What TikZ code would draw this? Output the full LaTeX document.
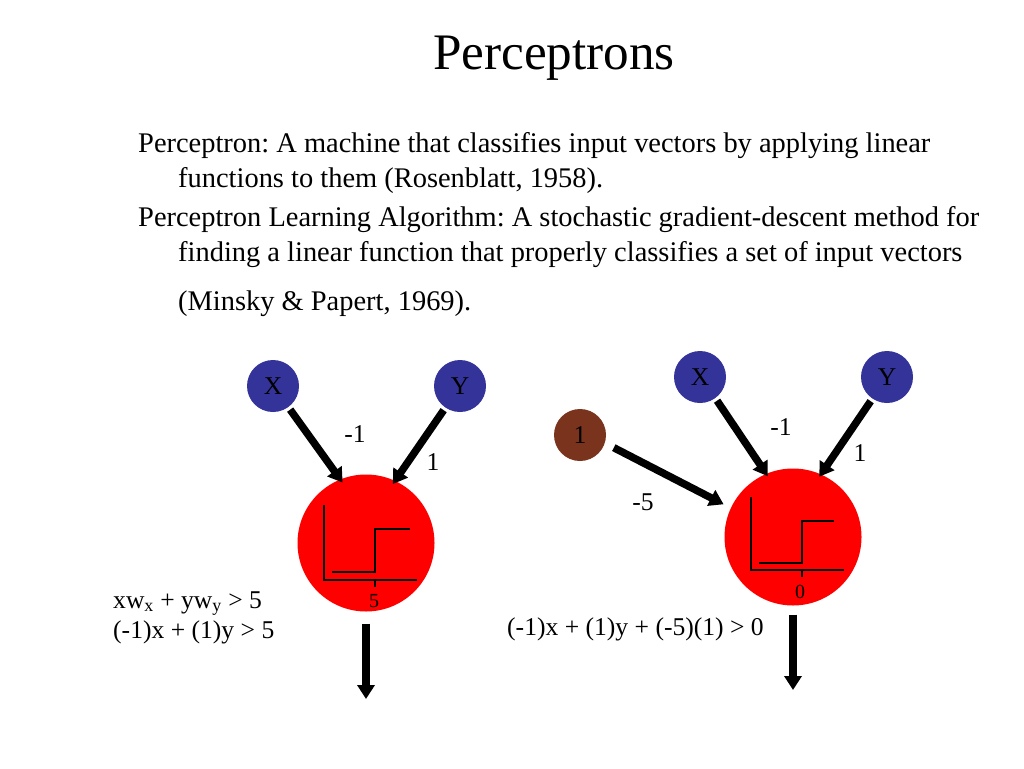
\documentclass[tikz,border=0pt]{standalone}
\usepackage{fontspec}
\setmainfont{Liberation Serif}
\usetikzlibrary{arrows.meta}
\definecolor{nodeblue}{HTML}{333399}
\definecolor{nodebrown}{HTML}{7A341E}
\definecolor{unitred}{HTML}{FF0000}
\begin{document}
\frenchspacing
\begin{tikzpicture}[x=1pt,y=-1pt,
  inputnode/.style={circle, fill=nodeblue, minimum size=52pt, inner sep=0pt, font=\fontsize{25.6}{30}\selectfont},
  biasnode/.style={inputnode, fill=nodebrown},
  unitnode/.style={circle, fill=unitred, minimum size=137pt, inner sep=0pt},
  conn/.style={line width=7.5pt, -{Triangle[length=14pt,width=17pt]}},
  wlabel/.style={anchor=base, inner sep=0pt, font=\fontsize{25.6}{30}\selectfont},
  eqlabel/.style={anchor=base west, inner sep=0pt, font=\fontsize{25.6}{30}\selectfont},
  axlabel/.style={anchor=base, inner sep=0pt, font=\fontsize{20}{24}\selectfont},
  stepline/.style={line width=1.5pt},
  bodytext/.style={anchor=base west, inner sep=0pt, font=\fontsize{28.44}{34}\selectfont},
  titletext/.style={anchor=base, inner sep=0pt, font=\fontsize{51.2}{60}\selectfont}]
\useasboundingbox[fill=white] (0,0) rectangle (1024,768);

% title and text
\node[titletext] (title) at (554,70) {Perceptrons};
\node[bodytext] (t1) at (138,152) {Perceptron: A machine that classifies input vectors by applying linear};
\node[bodytext] (t2) at (178,187) {functions to them (Rosenblatt, 1958).};
\node[bodytext] (t3) at (138,226) {Perceptron Learning Algorithm: A stochastic gradient-descent method for};
\node[bodytext] (t4) at (178,261) {finding a linear function that properly classifies a set of input vectors};
\node[bodytext] (t5) at (178,310) {(Minsky \& Papert, 1969).};

% left perceptron
\node[inputnode] (XL) at (273,386) {X};
\node[inputnode] (YL) at (460,386) {Y};
\node[unitnode] (RL) at (366,543) {};
\draw[stepline] (324,505) -- (324,580) -- (417,580);
\draw[stepline] (375,580) -- (375,587);
\draw[stepline] (332,572) -- (375,572) -- (375,529) -- (410,529);
\node[axlabel] (fiveL) at (374,607) {5};
\draw[conn, shorten <=3pt, shorten >=-4pt] (XL.-54) -- (RL.112);
\draw[conn, shorten <=3pt, shorten >=-4pt] (YL.-124) -- (RL.65);
\node[wlabel] (wxL) at (355,442) {-1};
\node[wlabel] (wyL) at (433,470) {1};
\coordinate (outL) at (366,699);
\draw[conn, shorten <=12pt] (RL.south) -- (outL);
\node[eqlabel] (eqL1) at (113,608) {xw\textsubscript{x} + yw\textsubscript{y} > 5};
\node[eqlabel] (eqL2) at (113,638) {(-1)x + (1)y > 5};

% right perceptron
\node[inputnode] (XR) at (700,377) {X};
\node[inputnode] (YR) at (887,377) {Y};
\node[biasnode] (BR) at (580,435) {1};
\node[unitnode] (RR) at (793,537) {};
\draw[stepline] (751,497) -- (751,570) -- (844,570);
\draw[stepline] (802,570) -- (802,577);
\draw[stepline] (759,563) -- (802,563) -- (802,521) -- (834,521);
\node[axlabel] (zeroR) at (800,598) {0};
\draw[conn, shorten <=3pt, shorten >=-3pt] (XR.-54) -- (RR.113);
\draw[conn, shorten <=3pt, shorten >=-3pt] (YR.-124) -- (RR.66);
\draw[conn, shorten <=10pt, shorten >=8pt] (BR.-18) -- (RR.155);
\node[wlabel] (wxR) at (781,435) {-1};
\node[wlabel] (wyR) at (860,461) {1};
\node[wlabel] (wbR) at (643,510) {-5};
\coordinate (outR) at (793,690);
\draw[conn, shorten <=9pt] (RR.south) -- (outR);
\node[eqlabel] (eqR) at (507,635) {(-1)x + (1)y + (-5)(1) > 0};
\end{tikzpicture}
\end{document}
